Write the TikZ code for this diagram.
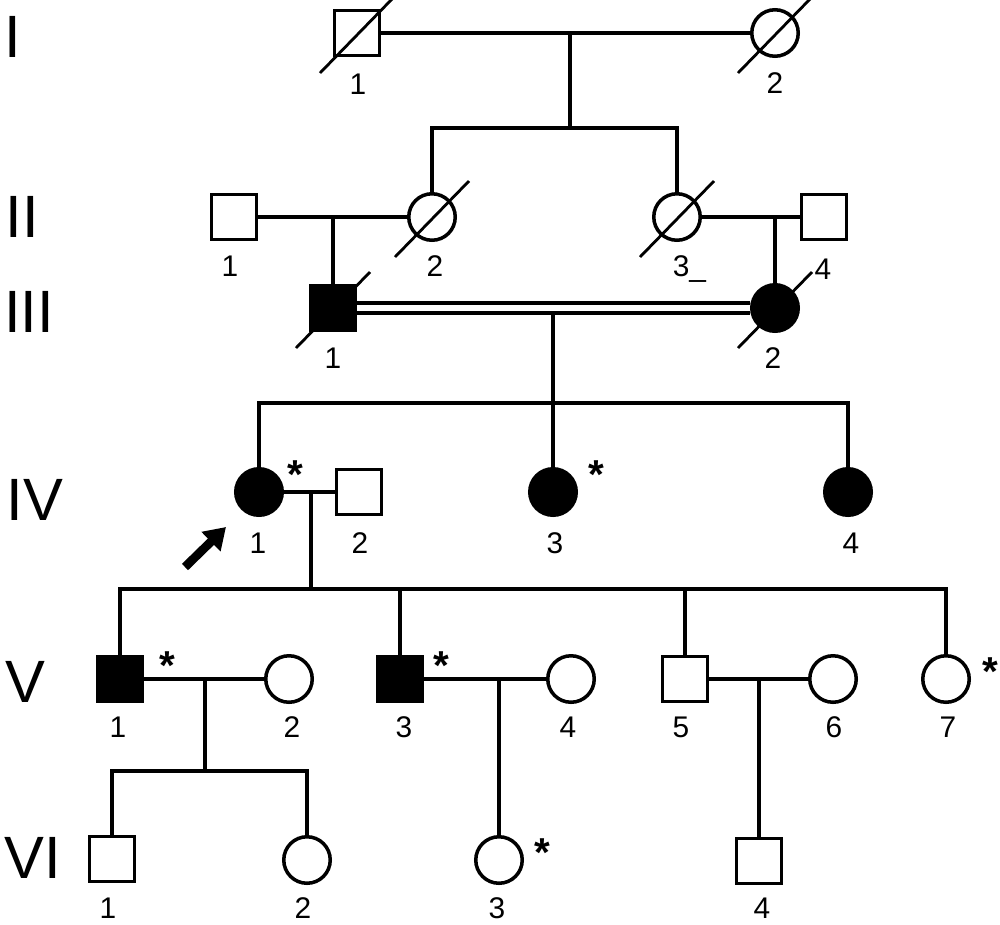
\documentclass[tikz,border=0pt]{standalone}
\usepackage{fontspec}
\setmainfont{Liberation Sans}
\usetikzlibrary{arrows.meta}
\newcommand\deceased[1]{\draw[slash] ([shift={(-37,40)}]#1.center) -- ([shift={(37,-36)}]#1.center);}
\begin{document}
\begin{tikzpicture}[x=0.02cm,y=-0.02cm,line width=2pt,
  male/.style={draw,rectangle,minimum size=0.9cm,inner sep=0pt},
  female/.style={draw,circle,minimum size=0.93cm,inner sep=0pt},
  aff/.style={fill=black},
  gen/.style={font=\fontsize{34}{34}\selectfont,inner sep=0pt},
  num/.style={font=\fontsize{17}{17}\selectfont,anchor=base,inner sep=0pt},
  star/.style={font=\fontsize{23}{23}\selectfont\bfseries,anchor=base,inner sep=0pt},
  slash/.style={line width=1.6pt}]
\path[use as bounding box,fill=white] (0,0) rectangle (1000,924);

\node[gen] (gI) at (13,37) {I};
\node[gen] (gII) at (22,217) {II};
\node[gen] (gIII) at (29,312) {III};
\node[gen] (gIV) at (35,500) {IV};
\node[gen] (gV) at (25,682) {V};
\node[gen] (gVI) at (33,858) {VI};

\node[male] (I1) at (357,33) {};
\node[female] (I2) at (775,33) {};
\node[male] (II1) at (234,217) {};
\node[female] (II2) at (432,217) {};
\node[female] (II3) at (677,217) {};
\node[male] (II4) at (824,217) {};
\node[male,aff] (III1) at (333,308) {};
\node[female,aff] (III2) at (775,308) {};
\node[female,aff] (IV1) at (259,492) {};
\node[male] (IV2) at (359,492) {};
\node[female,aff] (IV3) at (553,492) {};
\node[female,aff] (IV4) at (848,492) {};
\node[male,aff] (V1) at (120,679) {};
\node[female] (V2) at (289,679) {};
\node[male,aff] (V3) at (400,679) {};
\node[female] (V4) at (571,679) {};
\node[male] (V5) at (685,679) {};
\node[female] (V6) at (833,679) {};
\node[female] (V7) at (946,679) {};
\node[male] (VI1) at (112,859) {};
\node[female] (VI2) at (307,860) {};
\node[female] (VI3) at (499,860) {};
\node[male] (VI4) at (759,861) {};

\deceased{I1} \deceased{I2} \deceased{II2} \deceased{II3} \deceased{III1} \deceased{III2}

\coordinate (mI) at (570,33);
\coordinate (sII) at (570,128);
\draw (I1.east) -- (I2.west);
\draw (mI) -- (sII);
\draw (II2.north) |- (sII) -| (II3.north);

\coordinate (mII) at (333,217);
\coordinate (mII2) at (775,217);
\draw (II1.east) -- (II2.west);
\draw (mII) -- (III1.north);
\draw (II3.east) -- (II4.west);
\draw (mII2) -- (III2.north);

\coordinate (mIII) at (553,313);
\coordinate (sIV) at (553,403);
\draw ([shift={(0,-5)}]III1.east) -- ([shift={(0,-5)}]III2.west);
\draw ([shift={(0,5)}]III1.east) -- ([shift={(0,5)}]III2.west);
\draw (mIII) -- (sIV);
\draw (IV1.north) |- (sIV) -| (IV4.north);
\draw (sIV) -- (IV3.north);

\coordinate (mIV) at (311,492);
\coordinate (sV) at (311,589);
\draw (IV1.east) -- (IV2.west);
\draw (mIV) -- (sV);
\draw (V1.north) |- (sV) -| (V7.north);
\draw (V3.north) |- (sV);
\draw (V5.north) |- (sV);

\coordinate (mV1) at (205,679);
\coordinate (sVI) at (205,771);
\coordinate (mV3) at (499,679);
\coordinate (mV5) at (759,679);
\draw (V1.east) -- (V2.west);
\draw (mV1) -- (sVI);
\draw (VI1.north) |- (sVI) -| (VI2.north);
\draw (V3.east) -- (V4.west);
\draw (mV3) -- (VI3.north);
\draw (V5.east) -- (V6.west);
\draw (mV5) -- (VI4.north);

\coordinate (pa) at (185,567);
\coordinate (pb) at (226,527);
\draw[line width=5pt,-{Triangle[length=0.42cm,width=0.52cm]}] (pa) -- (pb);

\node[num] (I1n) at (358,94) {1};
\node[num] (I2n) at (775,93) {2};
\node[num] (II1n) at (230,276) {1};
\node[num] (II2n) at (435,276) {2};
\node[num,anchor=base west] (II3n) at (671,276) {3\_};
\node[num] (II4n) at (823,279) {4};
\node[num] (III1n) at (333,368) {1};
\node[num] (III2n) at (773,368) {2};
\node[num] (IV1n) at (258,553) {1};
\node[num] (IV2n) at (360,553) {2};
\node[num] (IV3n) at (555,553) {3};
\node[num] (IV4n) at (851,553) {4};
\node[num] (V1n) at (118,737) {1};
\node[num] (V2n) at (292,737) {2};
\node[num] (V3n) at (404,737) {3};
\node[num] (V4n) at (568,737) {4};
\node[num] (V5n) at (681,737) {5};
\node[num] (V6n) at (834,737) {6};
\node[num] (V7n) at (948,737) {7};
\node[num] (VI1n) at (108,918) {1};
\node[num] (VI2n) at (303,918) {2};
\node[num] (VI3n) at (497,918) {3};
\node[num] (VI4n) at (762,918) {4};

\node[star] (IV1s) at (295,488) {*};
\node[star] (IV3s) at (596,488) {*};
\node[star] (V1s) at (167,679) {*};
\node[star] (V3s) at (441,679) {*};
\node[star] (V7s) at (990,685) {*};
\node[star] (VI3s) at (542,866) {*};
\end{tikzpicture}
\end{document}
